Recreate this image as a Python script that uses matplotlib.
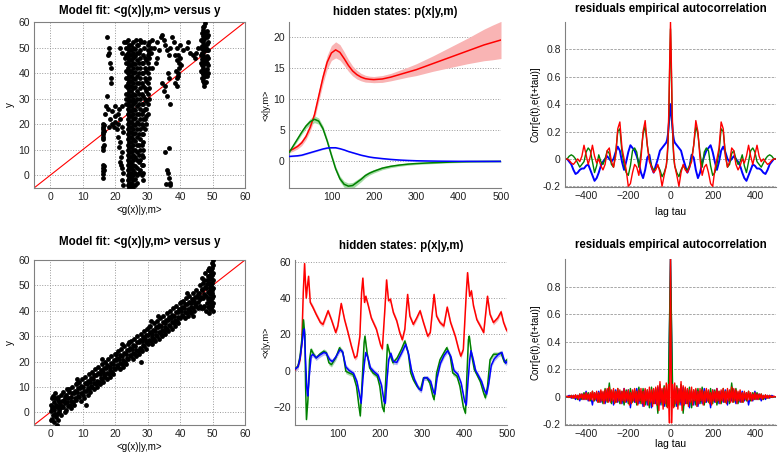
import matplotlib
matplotlib.use('Agg')
import matplotlib.pyplot as plt
import numpy as np

plt.rcParams['font.family'] = ['Liberation Sans', 'DejaVu Sans']

# ---------------- data: model fit (top) ----------------
# columns of points: (x, [y values])
fit1_columns = [
    (16.3, [-1, 0.5, 1.5, 3, 4, 10, 11, 14, 15, 16, 17, 18, 19, 20]),
    (16.7, [2, 3.5, 12, 17.5, 19.5]),
    (24.0, [-4, -2, 0, 2, 4, 6, 8, 10, 12, 14, 16, 18, 20, 22, 24, 26, 28, 30, 32, 34, 36, 38, 40, 42, 44, 46, 48, 50, 53]),
    (24.4, [-5, -3, -1, 1, 3, 5, 7, 9, 11, 13, 15, 17, 19, 21, 23, 25, 27, 29, 31, 33, 35, 37, 39, 41, 43, 45, 47, 49, 51]),
    (25.0, [-4.5, -3, -0.5, 1, 3, 4, 7, 9, 13, 15, 19, 21, 25, 27, 31, 33, 37, 39, 43, 45, 49, 51]),
    (25.6, [-5.5, -4, -2, 0, 2, 4, 6, 8, 10, 12, 14, 16, 18, 20, 22, 24, 26, 28, 30, 32, 34, 36, 38, 40, 42, 44, 46, 48, 50, 52]),
    (26.2, [-4, -1.5, 1, 3.5, 7, 10, 13.5, 16.5, 19.5, 22.5, 25.5, 28.5, 31.5, 34.5, 37.5, 40.5, 43.5, 46.5, 49.5]),
    (26.7, [-3, 0, 3, 6, 9, 12, 15, 18, 21, 24, 27, 30, 33, 36, 39, 42, 45, 48, 51]),
    (25.0, [-1, 5, 11, 17, 23, 29, 35, 41, 47]),
    (23.4, [28, 30, 32, 35, 38, 41, 44, 47, 50, 52]),
    (27.3, [1, 5, 8, 12, 16, 20, 24, 28, 32, 36, 40, 44, 48]),
    (27.8, [2, 6, 10, 14, 18, 22, 26, 30, 34, 38, 42, 46]),
    (28.2, [0, 4, 8, 12, 16, 20, 24, 28, 32, 36, 40, 44]),
    (28.6, [-2, 1, 4, 7, 10, 13, 16, 19, 22, 25, 28, 31, 35, 40, 44, 47]),
    (29.1, [18, 22, 26, 30, 34, 38, 42, 46]),
    (29.6, [20, 23, 26, 29, 33, 37, 41, 45]),
    (30.0, [24, 28, 32, 36, 40, 44, 47]),
    (30.4, [30, 34, 38, 42, 46, 48]),
    (46.5, [41, 44, 47, 50, 53]),
    (46.8, [38, 40.5, 43, 45.5, 48, 50.5, 53, 55.5]),
    (47.2, [37, 39.5, 44.5, 49.5, 54.5, 57]),
    (47.5, [36, 38.5, 41, 43.5, 46, 48.5, 51, 53.5, 56, 58.5]),
    (48.2, [39, 41.5, 44, 46.5, 49, 51.5, 54, 56.5]),
    (48.5, [40, 43, 46, 49, 52, 55]),
    (47.1, [42, 47, 52]),
    (47.9, [40, 45, 50, 55]),
]
fit1_points = [
    (17.5, 54), (18, 50), (18.2, 48), (17.8, 47), (18.5, 44), (18.8, 42), (18.6, 38), (18.7, 36),
    (17.5, 31), (17.2, 27), (17.8, 26), (17.0, 24),
    (18.5, 22), (19, 20), (19.5, 19), (20, 21), (20.5, 18), (21, 20), (19, 25), (20, 27), (21, 24),
    (21.5, 22), (22, 19), (22.5, 17), (19.8, 23), (18.2, 19), (21.3, 26), (22.2, 27), (20.8, 15),
    (21.5, 13), (21.2, 11), (22, 9), (21.5, 5), (21.8, 4), (22, 3), (22.3, 1), (22, -2), (22.5, -4),
    (21.7, 7), (21.5, 50), (22, 48), (22.8, 52), (23, 46),
    (26.5, 53), (27, 51), (27.5, 53), (28, 52), (29, 52), (30, 49), (30.5, 52), (31, 50), (31.5, 53),
    (31, 48), (32, 50), (33, 52), (34, 54), (34.5, 55), (35, 53), (35.5, 51), (36, 49), (37, 50),
    (37.5, 54), (38, 52), (39, 50), (40, 51), (41, 49), (42, 50), (43, 48), (44, 47), (45, 48),
    (45.5, 50), (42.5, 52), (36.5, 47), (33, 46), (32.5, 44), (31.5, 42), (33.5, 49), (44.5, 46),
    (39.5, 47), (27.5, 49), (29, 50), (30, 51),
    (38.5, 36), (39, 38), (39.3, 40), (39.6, 42), (39.8, 44), (40, 46), (39.2, 35), (38.8, 41),
    (39.5, 39), (40.2, 43), (39.0, 45), (38.3, 47),
    (34.5, 36), (35, 33), (35.5, 35), (36, 31), (36.5, 38), (37, 28), (36.2, 40), (35.3, 9),
    (36.5, 10.5), (36, 2), (36.3, 1), (36.5, -1), (36.8, -3), (35.8, -3.5), (37, -4),
    (47, 58), (47.8, 59.5), (47.3, 35), (48, 36.5),
]

# ---------------- data: model fit (bottom) ----------------
fit2_points = [
    (0.2, -3), (0.3, 0.5), (0.1, 3), (0.4, 5.5), (0.8, -1), (0.7, 2), (0.9, 6.5), (1.2, -4), (1.1, 1),
    (1.3, 4), (1.4, 7.5), (1.7, -2), (1.8, 3), (2.1, -5), (2.2, -0.5), (2.0, 2), (2.3, 5), (2.6, 0),
    (2.7, 4), (2.5, 6), (3.0, -6), (3.1, 1.5), (2.9, 3), (3.2, 7),
    (4, 2), (4.2, 5), (3.8, 8), (5, 1), (5.2, 4), (4.9, 7), (5.1, 9), (6, 3), (6.3, 6), (5.8, 9),
    (7, 4), (7.2, 7.5), (6.8, 10), (8, 5), (8.3, 8), (7.9, 11), (8.1, 13), (9, 6), (9.2, 9.5),
    (8.8, 12), (10, 7), (10.2, 10), (9.8, 13), (11, 3), (11, 8.5), (11.3, 11), (10.8, 14), (12, 9),
    (12.2, 12), (11.9, 15), (13, 10), (13.3, 13), (12.8, 16), (14, 11), (14.2, 14.5), (13.9, 17),
    (15, 12), (15.2, 15), (14.8, 18), (16, 13), (16.3, 16), (15.9, 19), (16.1, 21), (17, 14),
    (17.2, 17.5), (16.8, 20), (18, 15), (18.3, 18), (17.9, 21), (19, 16), (19.2, 19), (18.8, 22),
    (20, 17), (20.3, 20.5), (19.9, 23), (21, 18), (21.2, 21), (20.8, 24), (22, 19), (22.2, 22),
    (21.9, 25), (22.1, 27), (23, 20), (23.3, 23), (22.8, 26), (24, 21), (24.2, 24.5), (23.9, 27),
    (25, 22), (25.3, 25), (24.8, 28), (26, 23), (26.2, 26), (25.9, 29), (27, 24), (27.3, 27.5),
    (26.8, 30), (28, 20), (28, 25), (28.2, 28), (27.9, 31), (29, 26), (29.3, 29), (28.8, 32),
    (30, 27), (30.2, 30.5), (29.9, 33), (31, 28), (31.3, 31), (30.8, 34), (31.1, 36), (32, 29),
    (32.2, 32), (31.9, 35), (33, 30), (33.3, 33.5), (32.8, 36), (33.1, 38), (34, 31), (34.2, 34),
    (33.9, 37), (35, 32), (35.3, 35), (34.8, 38), (36, 33), (36.2, 36.5), (35.9, 39), (37, 34),
    (37.3, 37), (36.8, 40), (38, 35), (38.2, 38), (37.9, 41), (39, 36), (39.3, 39.5), (38.8, 42),
    (40, 37), (40.2, 40), (39.9, 43), (41, 38), (41.3, 41), (40.8, 44), (42, 39), (42.2, 42.5),
    (41.9, 45), (42.1, 47), (43, 40), (43.3, 43), (42.8, 46), (44, 38), (44, 41), (44.2, 44),
    (43.9, 47), (45, 42), (45.3, 45.5), (44.8, 48), (46, 42), (46.2, 44.5), (45.9, 47), (46.1, 50),
    (47, 41), (47.2, 45), (46.8, 48), (47.1, 51), (46.9, 53),
    (48, 40), (48.2, 43), (47.9, 46), (48.1, 49), (48.3, 52), (47.8, 55), (49, 39), (49.2, 42),
    (48.8, 45), (49.1, 48), (48.9, 51), (49.2, 54), (49, 57), (49.6, 41), (49.5, 44), (49.7, 47),
    (49.4, 50), (49.6, 53), (49.5, 56), (49.8, 59), (50, 40), (50, 43), (50, 46), (50, 49),
    (50, 52), (50, 55), (50, 58), (50, 60),
    (0.6, -2.5), (0.5, 1.5), (1.6, -0.5), (1.5, 5.5), (2.4, -3), (2.8, 1), (3.4, -1), (3.6, 4.5),
    (3.5, 2.5), (4.5, 0), (4.6, 3.5), (4.4, 6), (5.5, 2.5), (5.6, 5.5), (5.7, 8), (6.5, 4.5),
    (6.6, 7.5), (6.4, 1.5), (7.5, 5.5), (7.6, 8.5), (7.4, 3), (8.5, 6.5), (8.6, 9.5), (8.4, 11.5),
    (9.5, 7.5), (9.6, 10.5), (9.4, 4.5), (10.5, 8.5), (10.6, 11.5), (10.4, 5.5), (11.5, 9.5),
    (11.6, 12.5), (11.7, 7), (12.5, 10.5), (12.6, 13.5), (12.4, 8), (13.5, 11.5), (13.6, 14.5),
    (13.4, 9), (14.5, 12.5), (14.6, 15.5), (14.4, 10), (15.5, 13.5), (15.6, 16.5), (15.4, 11),
    (16.5, 14.5), (16.6, 17.5), (16.4, 12), (17.5, 15.5), (17.6, 18.5), (17.4, 13), (18.5, 16.5),
    (18.6, 19.5), (18.4, 14), (19.5, 17.5), (19.6, 20.5), (19.4, 15), (20.5, 18.5), (20.6, 21.5),
    (20.4, 23), (21.5, 19.5), (21.6, 22.5), (21.4, 17), (22.5, 20.5), (22.6, 23.5), (22.4, 18),
    (23.5, 21.5), (23.6, 24.5), (23.4, 19), (24.5, 22.5), (24.6, 25.5), (24.4, 27.5), (25.5, 23.5),
    (25.6, 26.5), (25.4, 21), (26.5, 24.5), (26.6, 27.5), (26.4, 22), (27.5, 25.5), (27.6, 28.5),
    (27.4, 23), (28.5, 26.5), (28.6, 29.5), (28.4, 24), (29.5, 27.5), (29.6, 30.5), (29.4, 25),
    (30.5, 28.5), (30.6, 31.5), (30.4, 33.5), (31.5, 29.5), (31.6, 32.5), (31.4, 27), (32.5, 30.5),
    (32.6, 33.5), (32.4, 28), (33.5, 31.5), (33.6, 34.5), (33.4, 29), (34.5, 32.5), (34.6, 35.5),
    (34.4, 30), (35.5, 33.5), (35.6, 36.5), (35.4, 31), (36.5, 34.5), (36.6, 37.5), (36.4, 32),
    (37.5, 35.5), (37.6, 38.5), (37.4, 33), (38.5, 36.5), (38.6, 39.5), (38.4, 34), (39.5, 37.5),
    (39.6, 40.5), (39.4, 35), (40.5, 38.5), (40.6, 41.5), (40.4, 43.5), (41.5, 39.5), (41.6, 42.5),
    (41.4, 37), (42.5, 40.5), (42.6, 43.5), (42.4, 38), (43.5, 41.5), (43.6, 44.5), (43.4, 39),
    (44.5, 42.5), (44.6, 45.5), (44.4, 40), (45.5, 43.5), (45.6, 46.5), (45.4, 41), (46.5, 41),
    (46.5, 45.5), (46.6, 48.5), (47.5, 42), (47.5, 46.5), (47.6, 49.5), (47.4, 52), (48.5, 41.5),
    (48.5, 44.5), (48.6, 47.5), (48.4, 50.5), (48.7, 53.5), (48.6, 56), (49.3, 40.5), (49.3, 43.5),
    (49.3, 46.5), (49.3, 49.5), (49.3, 52.5), (49.3, 55.5), (49.8, 42), (49.8, 45), (49.8, 48),
    (49.8, 51), (49.8, 54), (49.8, 57),
]

# ---------------- data: hidden states (top) ----------------
t_top = [1, 10, 20, 30, 40, 50, 60, 70, 80, 90, 100, 110, 120, 130, 140, 150, 160, 170, 180, 190,
         200, 220, 240, 260, 280, 300, 320, 340, 360, 380, 400, 420, 440, 460, 480, 500]
x1_red = [1.7, 2.0, 2.4, 3.0, 4.0, 5.5, 7.5, 10.5, 13.5, 16.0, 17.5, 18.0, 17.6, 16.6, 15.5, 14.6,
          14.0, 13.6, 13.35, 13.25, 13.2, 13.3, 13.6, 14.0, 14.4, 14.8, 15.3, 15.8, 16.3, 16.8,
          17.3, 17.8, 18.3, 18.8, 19.2, 19.6]
x1_red_sd = [0.3, 0.35, 0.4, 0.45, 0.5, 0.6, 0.7, 0.85, 1.0, 1.1, 1.2, 1.3, 1.25, 1.1, 0.95, 0.8,
             0.7, 0.6, 0.55, 0.5, 0.5, 0.55, 0.6, 0.7, 0.8, 0.95, 1.1, 1.25, 1.45, 1.65, 1.85,
             2.05, 2.3, 2.55, 2.8, 3.0]
x1_green = [1.5, 2.5, 3.6, 4.7, 5.7, 6.4, 6.8, 6.5, 5.3, 3.3, 1.0, -1.2, -2.8, -3.7, -4.0, -3.9,
            -3.4, -2.9, -2.3, -1.9, -1.6, -1.1, -0.8, -0.6, -0.45, -0.35, -0.28, -0.22, -0.17,
            -0.12, -0.08, -0.05, -0.03, -0.02, -0.01, 0.0]
x1_green_sd = [0.2, 0.25, 0.3, 0.35, 0.4, 0.5, 0.55, 0.5, 0.45, 0.4, 0.4, 0.4, 0.45, 0.5, 0.5,
               0.5, 0.45, 0.4, 0.35, 0.3, 0.28, 0.25, 0.22, 0.2, 0.18, 0.16, 0.15, 0.14, 0.13,
               0.12, 0.12, 0.11, 0.1, 0.1, 0.1, 0.1]
x1_blue = [0.8, 0.85, 0.9, 1.0, 1.2, 1.4, 1.6, 1.8, 2.0, 2.15, 2.2, 2.2, 2.05, 1.85, 1.6, 1.4,
           1.2, 1.0, 0.85, 0.7, 0.6, 0.45, 0.32, 0.22, 0.15, 0.1, 0.07, 0.05, 0.03, 0.02, 0.01,
           0.01, 0.0, 0.0, 0.0, 0.0]
x1_blue_sd = 0.1

# ---------------- data: hidden states (bottom) ----------------
x2_red_t = [0.5, 7, 12, 16, 19.5, 22.6, 26.5, 29, 32, 36, 42, 50, 60, 66, 78, 86, 96, 101, 109,
            117, 125, 133, 141, 146, 153, 157, 160, 164, 167, 173, 180, 192, 202, 206, 212, 216,
            220.6, 225, 232, 240, 247, 253, 259, 265.6, 271, 279, 287, 295, 303, 313, 319, 328,
            334, 342, 351, 359, 367, 378, 386, 391, 397, 404, 407, 412, 416, 421, 429, 437, 445,
            454, 460, 468, 478, 486, 492, 498, 500]
x2_red = [0.5, 2.4, 6, 15, 43, 59, 40, 46, 52, 37.6, 35, 31, 26.5, 25.5, 33, 28, 21, 24.6, 37,
          28, 21, 13.5, 7, 8, 19, 43, 51, 37.6, 41, 35.7, 29, 22.8, 14, 12, 34, 50, 38.5, 39.4,
          32, 27.4, 21, 17, 22.8, 42, 30, 25.5, 29, 33, 26.5, 19, 21, 42, 30, 26.5, 24.6, 35,
          26.5, 19, 11.7, 8, 11.7, 43, 54, 41, 44, 35.7, 28, 24.6, 21, 41, 31, 26.5, 29, 32.4,
          26.5, 22.8, 22]
x2_green_t = [0.5, 7, 12, 17, 20, 23.4, 25, 27, 30.5, 34.4, 38, 44, 50, 58, 68, 74, 80, 86, 96,
              105, 113, 120, 128, 137, 145, 151, 154, 159, 163, 165, 170, 176, 184, 194, 200, 206,
              210, 214, 218, 224, 231, 241, 251, 259, 267, 273, 279, 288, 296, 303, 311, 318,
              325, 328, 334, 342, 351, 358, 366, 372, 382, 389, 397, 402, 405, 409, 411, 417,
              423, 429, 437, 445, 449, 454, 460, 468, 478, 486, 490, 494, 500]
x2_green = [1, 2.4, 8, 19, 28, 19, -8.7, -27, -16, 6, 11.7, 9, 7, 9, 10.7, 9.8, 4.3, 3.3, 7, 12.6,
            9.8, -0.4, -1.3, -2.2, -8.7, -20, -25, -3, 15.4, 19, 9.8, 1.5, -1.3, -3, -8.7, -20,
            -22.6, -5, 14.4, 9, 4.3, 7, 11.7, 16.3, 9.8, -1.3, -5, -8.7, -10.6, -4, -4, -6.9,
            -14, -16, -1.3, 6, 9.8, 12.6, 8, -1.3, -3, -8.7, -20, -23.5, -5, 17, 19, 8, 0.5,
            -2.2, -6, -12.4, -15, -8.7, 6, 9, 9, 9.8, 7, 4.6, 6]
x2_blue_t = [0.5, 7, 12, 17, 20, 22, 25, 28, 30, 34, 38, 42, 50, 58, 68, 74, 82, 88, 96, 106,
             112, 120, 128, 138, 146, 152, 156, 160, 164, 167, 172, 178, 186, 196, 204, 210, 213,
             217, 221, 226, 232, 240, 252, 261, 268, 275, 282, 292, 298, 304, 312, 320, 327,
             330, 335, 343, 352, 360, 368, 375, 384, 392, 400, 404, 408, 412, 415, 420, 426,
             432, 440, 447, 452, 457, 463, 470, 480, 488, 493, 497, 500]
x2_blue = [1, 2, 7, 16, 22, 23, 5, -10, -14, -2, 8, 9, 7, 8.5, 10, 9.5, 6, 5, 7.5, 11.5, 10.5, 2,
           0, -1.5, -6, -13, -18, -5, 5, 10, 7, 1.5, -0.5, -2.5, -8, -17, -18, -5, 6, 9.5, 5,
           4.5, 10, 14.5, 9, 0, -5, -10, -11, -4, -4, -6, -12, -13, -4, 4, 8.5, 11, 7.5, 0, -2,
           -7, -17, -19, -6, 6, 11, 6.5, 0, -2.5, -6, -11, -13, -7, 3, 6.5, 9, 10, 6, 4, 5]
x2_sd = 1.3

# ---------------- data: residual autocorrelation (positive lags; symmetric) ----------------
lag_top = [0, 4, 8, 12, 16, 20, 30, 40, 50, 60, 70, 80, 90, 100, 110, 120, 130, 140, 150, 160,
           170, 180, 190, 200, 210, 220, 230, 240, 250, 260, 270, 280, 290, 300, 310, 320, 330,
           340, 350, 360, 370, 380, 390, 400, 410, 420, 430, 440, 450, 460, 470, 480, 490, 500]
ac1_red = [1.0, 0.7, 0.35, 0.12, 0.02, -0.05, -0.12, -0.2, -0.1, -0.04, -0.08, -0.1, -0.06,
           -0.02, 0.1, 0.28, 0.2, 0.0, -0.12, -0.06, -0.04, -0.1, -0.18, -0.2, -0.08, 0.0, 0.08,
           0.27, 0.22, 0.02, -0.06, -0.02, 0.08, 0.06, -0.04, -0.08, -0.05, 0.0, -0.03, 0.02,
           0.1, 0.02, -0.04, 0.03, 0.1, 0.02, -0.02, 0.0, -0.02, -0.04, -0.03, -0.01, 0.0, 0.0]
ac1_green = [0.95, 0.65, 0.3, 0.1, 0.0, -0.05, -0.1, -0.13, -0.08, -0.05, -0.07, -0.08, -0.05,
             0.0, 0.1, 0.24, 0.18, 0.04, -0.06, 0.05, 0.08, 0.06, -0.05, -0.12, -0.1, -0.04,
             0.05, 0.22, 0.2, 0.04, -0.06, -0.04, 0.04, 0.06, 0.0, -0.04, -0.02, 0.03, -0.05,
             -0.1, -0.02, 0.06, 0.08, 0.05, -0.02, -0.04, -0.06, -0.03, 0.0, 0.02, 0.03, 0.02,
             0.0, 0.0]
ac1_blue = [0.4, 0.33, 0.25, 0.18, 0.14, 0.12, 0.1, 0.08, 0.06, 0.0, -0.05, -0.1, -0.06, 0.03,
            0.01, -0.08, -0.14, -0.1, -0.03, 0.02, 0.06, 0.08, 0.1, 0.05, -0.02, -0.08, -0.02,
            0.06, 0.09, 0.05, 0.0, -0.02, 0.0, 0.02, 0.0, -0.02, -0.05, -0.1, -0.14, -0.16,
            -0.12, -0.08, -0.04, -0.05, -0.07, -0.07, -0.08, -0.1, -0.11, -0.08, -0.04, -0.02,
            0.0, 0.0]

lag_bot = list(range(0, 505, 5))
ac2_red = [1.0, -0.19, 0.09, -0.08, 0.1, -0.05, 0.07, -0.09, 0.06, -0.04, 0.11, -0.1, 0.08,
           -0.06, 0.07, -0.05, 0.06, -0.07, 0.05, -0.04, 0.07, -0.06, 0.05, -0.03, 0.06, -0.07,
           0.04, -0.05, 0.06, -0.03, 0.05, -0.06, 0.04, -0.04, 0.06, -0.03, 0.05, -0.05, 0.03,
           -0.06, 0.05, -0.03, 0.04, -0.04, 0.06, -0.03, 0.04, -0.05, 0.05, -0.03, 0.06, -0.04,
           0.04, -0.05, 0.06, -0.03, 0.05, -0.04, 0.07, -0.04, 0.06, -0.03, 0.05, -0.05, 0.04,
           -0.03, 0.05, -0.04, 0.03, -0.04, 0.04, -0.02, 0.03, -0.03, 0.04, -0.02, 0.03, -0.03,
           0.02, -0.02, 0.03, -0.02, 0.02, -0.02, 0.02, -0.01, 0.02, -0.02, 0.01, -0.01, 0.015,
           -0.01, 0.01, -0.01, 0.01, -0.005, 0.005, -0.005, 0.005, 0.0, 0.0]
lag_bot10 = list(range(0, 510, 10))
ac2_blue = [1.0, -0.05, 0.06, -0.07, 0.05, -0.06, 0.07, -0.05, 0.05, -0.08, 0.04, -0.06, 0.05,
            -0.07, 0.04, -0.05, 0.06, -0.04, 0.04, -0.08, 0.05, -0.04, 0.06, -0.05, 0.04, -0.04,
            0.05, -0.06, 0.04, -0.03, 0.05, -0.05, 0.03, -0.04, 0.04, -0.03, 0.03, -0.06, 0.02,
            -0.03, 0.04, -0.02, 0.02, -0.03, 0.01, -0.02, 0.01, -0.01, 0.01, 0.0, 0.0]
ac2_green = [1.0, 0.06, -0.07, 0.08, -0.06, 0.09, -0.12, 0.06, -0.05, 0.07, -0.08, 0.05, -0.06,
             0.06, -0.05, 0.07, -0.06, 0.05, -0.04, 0.06, -0.05, 0.05, -0.06, 0.04, -0.05, 0.06,
             -0.04, 0.05, -0.05, 0.1, -0.04, 0.06, -0.05, 0.04, -0.04, 0.03, -0.03, 0.04, -0.03,
             0.03, -0.02, 0.03, -0.02, 0.02, -0.02, 0.01, -0.01, 0.01, -0.005, 0.0, 0.0]

RED = '#ff0000'
GREEN = '#008000'
BLUE = '#0000ff'
GRID = '#9a9a9a'
SPINE = '#808080'


def mirror(lags, vals):
    lags = np.asarray(lags, float)
    vals = np.asarray(vals, float)
    return np.concatenate([-lags[:0:-1], lags]), np.concatenate([vals[:0:-1], vals])


def style_axes(ax, box=False):
    for side in ['top', 'right']:
        ax.spines[side].set_visible(box)
    for sp in ax.spines.values():
        sp.set_color(SPINE)
        sp.set_linewidth(0.8)
    ax.tick_params(labelsize=7.5, length=0, pad=3, colors='#222222')


def fit_panel(ax, xs, ys, title, title_pad):
    ax.plot([-5, 60], [-5, 60], color=RED, lw=0.8, zorder=2)
    ax.plot(xs, ys, 'o', color='k', ms=3.5, mew=0, zorder=3)
    ax.set_xlim(-5, 60)
    ax.set_ylim(-5, 60)
    ax.set_xticks(range(0, 61, 10))
    ax.set_yticks(range(0, 61, 10))
    ax.grid(True, ls=':', color=GRID, lw=0.7)
    ax.set_axisbelow(True)
    style_axes(ax, box=True)
    ax.set_title(title, fontsize=8.3, fontweight='bold', pad=title_pad)
    ax.set_xlabel('<g(x)|y,m>', fontsize=7, labelpad=2)
    ax.set_ylabel('y', fontsize=7, labelpad=2)


def state_panel(ax, series, ylim, yticks, title, title_pad):
    for t, m, sd, col, band in series:
        t = np.asarray(t, float)
        m = np.asarray(m, float)
        sd = np.asarray(sd, float) if np.ndim(sd) else sd
        ax.fill_between(t, m - sd, m + sd, color=band, lw=0, zorder=1)
    for t, m, sd, col, band in series:
        ax.plot(t, m, color=col, lw=1.1, zorder=3)
    ax.set_xlim(0, 500)
    ax.set_ylim(*ylim)
    ax.set_xticks([100, 200, 300, 400, 500])
    ax.set_yticks(yticks)
    ax.yaxis.grid(True, ls=':', color=GRID, lw=0.7)
    ax.set_axisbelow(True)
    style_axes(ax)
    ax.set_title(title, fontsize=8.3, fontweight='bold', pad=title_pad)
    ax.set_ylabel('<x|y,m>', fontsize=6.5, labelpad=2)


def acf_panel(ax, series, title, title_pad, xlabel_pad):
    for lags, vals, col, lw in series:
        lx, ly = mirror(lags, vals)
        ax.plot(lx, ly, color=col, lw=lw)
    ax.set_xlim(-500, 500)
    ax.set_ylim(-0.205, 1.0)
    ax.set_xticks([-400, -200, 0, 200, 400])
    ax.set_yticks([-0.2, 0, 0.2, 0.4, 0.6, 0.8])
    ax.set_yticklabels(['-0.2', '0', '0.2', '0.4', '0.6', '0.8'])
    ax.yaxis.grid(True, ls='--', color=GRID, lw=0.6, dashes=(3, 1.5))
    ax.set_axisbelow(True)
    style_axes(ax)
    ax.set_title(title, fontsize=8.3, fontweight='bold', pad=title_pad)
    ax.set_xlabel('lag tau', fontsize=7.5, labelpad=xlabel_pad)
    ax.set_ylabel('Corr[e(t),e(t+tau)]', fontsize=7, labelpad=2)


fig = plt.figure(figsize=(7.8, 4.54), dpi=100)
W, H = 780.0, 454.0


def add_ax(left, top, right, bottom):
    return fig.add_axes([left / W, 1 - bottom / H, (right - left) / W, (bottom - top) / H])


# top row
fx, fy = [], []
for cx, col in fit1_columns:
    fx += [cx] * len(col)
    fy += col
for px, py in fit1_points:
    fx.append(px)
    fy.append(py)
ax = add_ax(34, 22, 245, 188)
fit_panel(ax, fx, fy, 'Model fit: <g(x)|y,m> versus y', 6)

ax = add_ax(289, 22, 501, 188)
state_panel(ax, [
    (t_top, x1_red, x1_red_sd, RED, '#f9b4b4'),
    (t_top, x1_green, x1_green_sd, GREEN, '#a6dca6'),
    (t_top, x1_blue, x1_blue_sd, BLUE, '#b4b4f4'),
], (-4.3, 22.5), [0, 5, 10, 15, 20], 'hidden states: p(x|y,m)', 5)

ax = add_ax(565, 22, 776, 187)
acf_panel(ax, [
    (lag_top, ac1_blue, BLUE, 1.4),
    (lag_top, ac1_green, GREEN, 1.0),
    (lag_top, ac1_red, RED, 1.0),
], 'residuals empirical autocorrelation', 7, 4)

# bottom row
pts = np.array(fit2_points, float)
ax = add_ax(34, 260, 245, 425)
fit_panel(ax, pts[:, 0], pts[:, 1], 'Model fit: <g(x)|y,m> versus y', 11)

ax = add_ax(295, 260, 507, 425)
state_panel(ax, [
    (x2_red_t, x2_red, x2_sd, RED, '#f9b4b4'),
    (x2_green_t, x2_green, x2_sd, GREEN, '#a6dca6'),
    (x2_blue_t, x2_blue, x2_sd, BLUE, '#b4b4f4'),
], (-30, 61), [-20, 0, 20, 40, 60], 'hidden states: p(x|y,m)', 8)

ax = add_ax(565, 259, 776, 425)
acf_panel(ax, [
    (lag_bot10, ac2_blue, BLUE, 1.0),
    (lag_bot10, ac2_green, GREEN, 1.0),
    (lag_bot, ac2_red, RED, 1.0),
], 'residuals empirical autocorrelation', 8, 0)

fig.savefig('out.png', dpi=100)
